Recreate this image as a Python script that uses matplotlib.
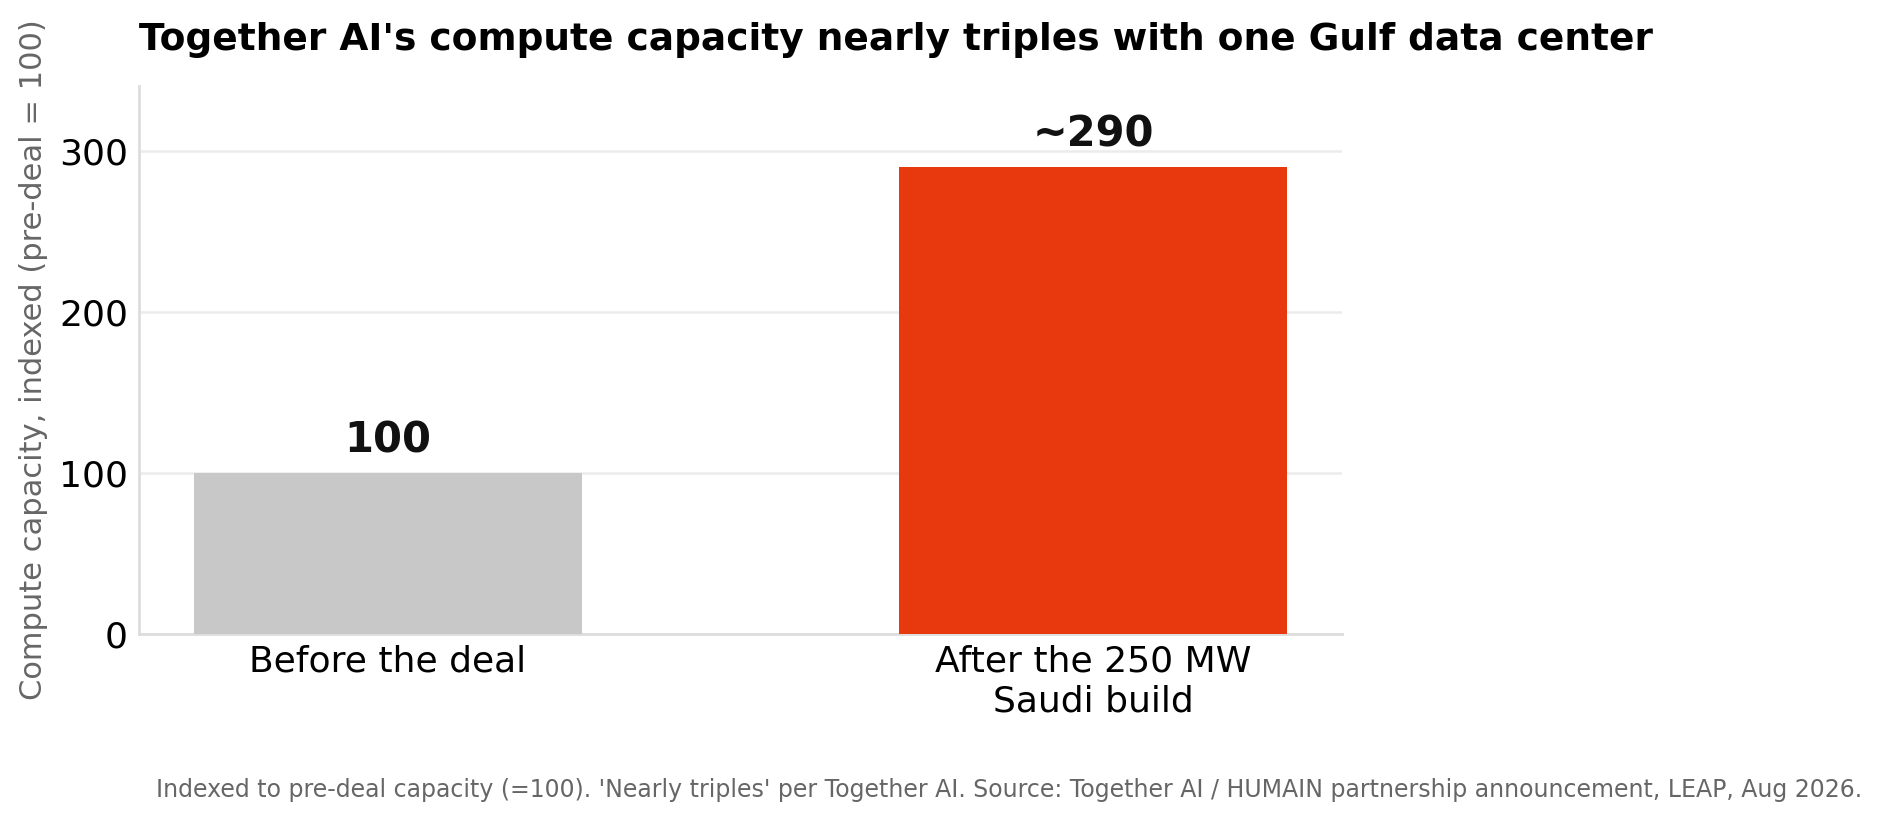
import matplotlib.pyplot as plt

# data
categories = ["Before the deal", "After the 250 MW\nSaudi build"]
values = [100, 290]
value_labels = ["100", "~290"]
bar_colors = ["#c8c8c8", "#e8380d"]
yticks = [0, 100, 200, 300]

title = "Together AI's compute capacity nearly triples with one Gulf data center"
ylabel = "Compute capacity, indexed (pre-deal = 100)"
note = ("Indexed to pre-deal capacity (=100). 'Nearly triples' per Together AI. "
        "Source: Together AI / HUMAIN partnership announcement, LEAP, Aug 2026.")

fig = plt.figure(figsize=(9.41, 4.105), dpi=200)
ax = fig.add_axes([0.0739, 0.228, 0.639, 0.667])

x = list(range(len(categories)))
ax.bar(x, values, width=0.55, color=bar_colors, zorder=3)

# value labels above bars
for xi, v, lab in zip(x, values, value_labels):
    ax.annotate(lab, (xi, v), xytext=(0, 4), textcoords="offset points",
                ha="center", va="bottom", fontsize=15, fontweight="bold",
                color="#111111")

ax.set_ylim(0, 340)
ax.set_yticks(yticks)
ax.set_xticks(x)
ax.set_xticklabels(categories)
ax.tick_params(axis="both", length=0, labelsize=13, pad=4)
ax.tick_params(axis="x", pad=4)

ax.yaxis.grid(True, color="#ececec", linewidth=0.9, zorder=0)
ax.set_axisbelow(True)

for s in ["top", "right"]:
    ax.spines[s].set_visible(False)
for s in ["left", "bottom"]:
    ax.spines[s].set_color("#dddddd")
    ax.spines[s].set_linewidth(1.0)

ax.set_ylabel(ylabel, fontsize=11, color="#666666", labelpad=4)
ax.set_title(title, loc="left", fontsize=13.5, fontweight="bold", pad=13)

fig.text(0.083, 0.038, note, fontsize=8.5, color="#666666", va="center", ha="left")

fig.savefig("out.png", dpi=200)
